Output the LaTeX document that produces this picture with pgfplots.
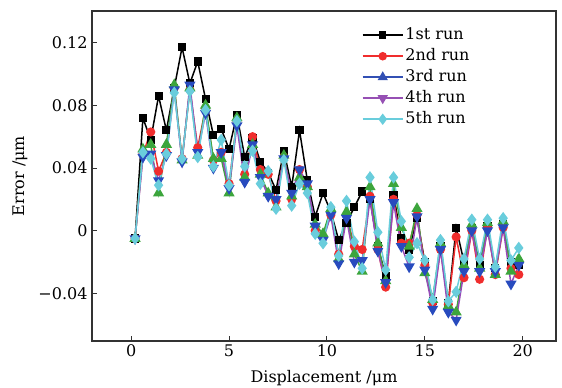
\documentclass[border=0pt]{standalone}
\usepackage{fontspec}
\setmainfont{DejaVu Serif}
\usepackage{pgfplots}
\pgfplotsset{compat=1.18}
\usepackage{pgfplotstable}

\definecolor{cred}{RGB}{240,45,45}
\definecolor{cgreen}{RGB}{60,165,60}
\definecolor{cblue}{RGB}{40,75,190}
\definecolor{cpurple}{RGB}{150,75,185}
\definecolor{ccyan}{RGB}{105,205,220}
\definecolor{lblue}{RGB}{50,80,180}
\definecolor{lpurple}{RGB}{150,80,180}
\definecolor{axgray}{RGB}{50,50,50}

\pgfplotstableread{
x r1 r2 r3 r4 r5
0.2 -0.005 -0.005 -0.005 -0.005 -0.005
0.6 0.072 0.049 0.052 0.047 0.050
1.0 0.058 0.063 0.055 0.049 0.046
1.4 0.086 0.038 0.024 0.032 0.029
1.8 0.064 0.050 0.055 0.048 0.049
2.2 0.091 0.091 0.093 0.090 0.088
2.6 0.117 0.046 0.045 0.044 0.046
3.0 0.094 0.090 0.091 0.093 0.089
3.4 0.108 0.053 0.048 0.050 0.047
3.8 0.084 0.078 0.080 0.075 0.077
4.2 0.061 0.045 0.046 0.040 0.041
4.6 0.065 0.050 0.046 0.050 0.058
5.0 0.052 0.030 0.024 0.027 0.029
5.4 0.074 0.070 0.072 0.067 0.070
5.8 0.047 0.036 0.034 0.031 0.041
6.2 0.059 0.060 0.055 0.055 0.051
6.6 0.044 0.039 0.036 0.034 0.030
7.0 0.037 0.036 0.024 0.022 0.038
7.4 0.026 0.019 0.015 0.020 0.014
7.8 0.051 0.047 0.048 0.046 0.045
8.2 0.028 0.020 0.022 0.024 0.016
8.6 0.064 0.039 0.034 0.039 0.030
9.0 0.032 0.028 0.028 0.030 0.024
9.4 0.009 0.000 0.004 0.003 -0.002
9.8 0.024 -0.004 -0.002 -0.006 -0.008
10.2 0.012 0.010 0.014 0.010 0.015
10.6 -0.006 -0.015 -0.018 -0.021 -0.016
11.0 0.005 0.010 0.012 0.008 0.019
11.4 0.015 -0.010 -0.015 -0.020 -0.007
11.8 0.025 -0.012 -0.026 -0.019 -0.024
12.2 0.020 0.022 0.028 0.020 0.034
12.6 -0.010 -0.012 -0.008 -0.013 -0.001
13.0 -0.029 -0.036 -0.032 -0.033 -0.025
13.4 0.023 0.020 0.030 0.018 0.034
13.8 -0.005 -0.008 0.002 -0.010 0.006
14.2 -0.012 -0.008 -0.010 -0.023 -0.017
14.6 0.008 0.010 0.014 0.009 -0.008
15.0 -0.020 -0.022 -0.027 -0.025 -0.019
15.4 -0.045 -0.046 -0.044 -0.050 -0.044
15.8 -0.010 -0.012 -0.008 -0.012 -0.006
16.2 -0.046 -0.047 -0.048 -0.052 -0.045
16.6 0.002 -0.004 -0.052 -0.057 -0.039
17.0 -0.020 -0.030 -0.022 -0.026 -0.018
17.4 0.002 0.000 0.004 0.000 0.007
17.8 -0.022 -0.031 -0.024 -0.026 -0.018
18.2 0.003 0.002 0.005 0.000 0.007
18.6 -0.024 -0.028 -0.028 -0.026 -0.023
19.0 0.004 0.002 0.006 0.002 0.008
19.4 -0.020 -0.024 -0.026 -0.034 -0.019
19.8 -0.022 -0.028 -0.018 -0.022 -0.011
}\datatable

\begin{document}
\begin{tikzpicture}
\useasboundingbox (-92bp,-47bp) rectangle (470bp,341bp);
\begin{axis}[
  at={(0,0)}, anchor=south west,
  scale only axis, width=464bp, height=330bp,
  xmin=-2, xmax=21.7, ymin=-0.0704, ymax=0.1402,
  xtick={0,5,10,15,20},
  ytick={-0.04,0,0.04,0.08,0.12},
  yticklabels={−0.04,0,0.04,0.08,0.12},
  xticklabels={0,5,10,15,20},
  tick align=inside, xtick pos=left, ytick pos=left,
  major tick length=5bp,
  axis line style={line width=1.2bp, axgray},
  tick style={line width=1bp, axgray},
  every tick label/.append style={font=\fontsize{16bp}{19bp}\selectfont},
  yticklabel style={xshift=-1bp},
  xlabel={Displacement /μm},
  ylabel={Error /μm},
  every axis x label/.style={at={(axis description cs:0.5,-0.112)}, anchor=center, font=\fontsize{16bp}{19bp}\selectfont},
  every axis y label/.style={at={(axis description cs:-0.155,0.5)}, rotate=90, anchor=center, font=\fontsize{16bp}{19bp}\selectfont},
  legend style={at={(axis description cs:0.575,0.965)}, anchor=north west,
    draw=none, fill=none, font=\fontsize{16bp}{19bp}\selectfont,
    nodes={text height=11bp, text depth=3bp, inner ysep=3.5bp}},
  legend cell align=left,
  legend image code/.code={\draw[mark repeat=2, mark phase=2] plot coordinates {(0bp,0bp) (20bp,0bp) (40bp,0bp)};},
  clip=false,
]
\addplot[forget plot, black, line width=1.5bp, mark=square*, mark size=3.3bp] table[x=x,y=r1]{\datatable};
\addplot[forget plot, cred, line width=1.5bp, mark=*, mark size=3.8bp] table[x=x,y=r2]{\datatable};
\addplot[forget plot, cgreen, line width=1.5bp, mark=triangle*, mark size=5bp] table[x=x,y=r3]{\datatable};
\addplot[forget plot, cpurple, line width=1.5bp, mark=triangle*, mark size=5bp, mark options={rotate=180, fill=cblue, draw=cblue}] table[x=x,y=r4]{\datatable};
\addplot[forget plot, ccyan, line width=1.5bp, mark=diamond*, mark size=5bp] table[x=x,y=r5]{\datatable};

\addlegendimage{black, line width=1.5bp, mark=square*, mark size=3bp}
\addlegendimage{cred, line width=1.5bp, mark=*, mark size=3.5bp}
\addlegendimage{lblue, line width=1.5bp, mark=triangle*, mark size=4.5bp}
\addlegendimage{lpurple, line width=1.5bp, mark=triangle*, mark size=4.5bp, mark options={rotate=180}}
\addlegendimage{ccyan, line width=1.5bp, mark=diamond*, mark size=4.5bp}
\legend{1st run, 2nd run, 3rd run, 4th run, 5th run}
\end{axis}
\end{tikzpicture}
\end{document}
